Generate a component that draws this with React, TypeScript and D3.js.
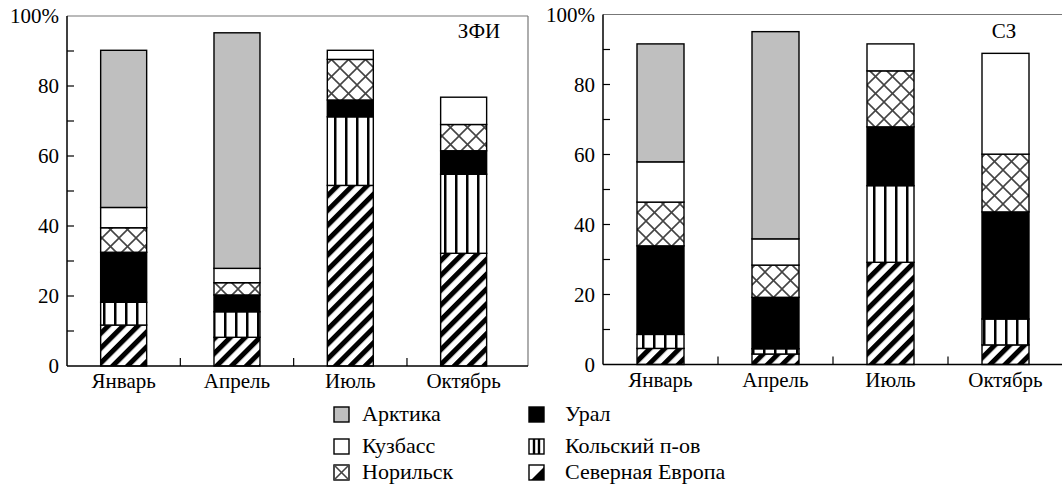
import React from 'react';
import * as d3 from 'd3';

// months on the x axis
const months = ['Январь', 'Апрель', 'Июль', 'Октябрь'];

// stack order, bottom to top
const regionKeys = ['north', 'kola', 'ural', 'norilsk', 'kuzbass', 'arctic'];
const regionNames = ['Северная Европа', 'Кольский п-ов', 'Урал', 'Норильск', 'Кузбасс', 'Арктика'];

// ЗФИ panel, % per month
const zfiNorthEurope = [11.7, 8.2, 51.6, 32.2];
const zfiKola = [6.5, 7.3, 19.6, 22.6];
const zfiUral = [14.3, 4.8, 4.8, 6.7];
const zfiNorilsk = [7.0, 3.5, 11.6, 7.5];
const zfiKuzbass = [5.8, 4.1, 2.6, 7.8];
const zfiArctic = [44.9, 67.3, 0, 0];

// СЗ panel, % per month
const szNorthEurope = [4.6, 3.0, 29.2, 5.6];
const szKola = [4.0, 1.5, 21.9, 7.4];
const szUral = [25.3, 14.7, 16.8, 30.6];
const szNorilsk = [12.5, 9.2, 16.0, 16.5];
const szKuzbass = [11.5, 7.5, 7.7, 28.8];
const szArctic = [33.7, 59.2, 0, 0];

const yTicks = [0, 20, 40, 60, 80, 100];
const yMinorTicks = [10, 30, 50, 70, 90];

const FONT = '"Liberation Serif", "Times New Roman", serif';

// fills per region key
const fills = {
  north: 'url(#pat-diag)',
  kola: 'url(#pat-vert)',
  ural: '#000',
  norilsk: 'url(#pat-cross)',
  kuzbass: '#fff',
  arctic: '#bfbfbf',
};

function buildRows(series) {
  return months.map((m, i) => {
    const row = { month: m };
    regionKeys.forEach((k, j) => { row[k] = series[j][i]; });
    return row;
  });
}

function Panel({ series, label, left, bandRight, frameRight, top, bottom, barWidth, labelX }) {
  const rows = buildRows(series);
  const stacked = d3.stack().keys(regionKeys)(rows);

  const x = d3.scaleBand().domain(months).range([left, bandRight]);
  const y = d3.scaleLinear().domain([0, 100]).range([bottom, top]);

  return (
    <g>
      {/* frame */}
      <line x1={left} x2={frameRight} y1={y(100)} y2={y(100)} stroke="#777" strokeWidth={1.2} />
      <line x1={frameRight} x2={frameRight} y1={y(100)} y2={y(0)} stroke="#777" strokeWidth={1.2} />

      {/* bars */}
      {stacked.map(layer => (
        <g key={layer.key}>
          {layer.map((d, i) => {
            const h = y(d[0]) - y(d[1]);
            if (h <= 0) return null;
            const cx = x(months[i]) + x.bandwidth() / 2;
            return (
              <rect key={i} x={cx - barWidth / 2} y={y(d[1])} width={barWidth} height={h}
                fill={fills[layer.key]} stroke="#000" strokeWidth={1.4} />
            );
          })}
        </g>
      ))}

      {/* y axis */}
      <line x1={left} x2={left} y1={y(100)} y2={y(0)} stroke="#000" strokeWidth={1.5} />
      {yTicks.filter(t => t > 0 && t < 100).concat(yMinorTicks).map(t => (
        <line key={t} x1={left} x2={left + 7} y1={y(t)} y2={y(t)} stroke="#000" strokeWidth={1.2} />
      ))}
      {yTicks.map(t => (
        <text key={t} x={left - 8} y={y(t)} dy="0.35em" textAnchor="end"
          fontFamily={FONT} fontSize={21}>{t === 100 ? '100%' : t}</text>
      ))}

      {/* x axis */}
      <line x1={left} x2={frameRight} y1={y(0)} y2={y(0)} stroke="#000" strokeWidth={1.5} />
      {months.slice(1).map(m => (
        <line key={m} x1={x(m)} x2={x(m)} y1={y(0)} y2={y(0) - 8} stroke="#000" strokeWidth={1.2} />
      ))}
      {months.map(m => (
        <text key={m} x={x(m) + x.bandwidth() / 2} y={y(0) + 22} textAnchor="middle"
          fontFamily={FONT} fontSize={21}>{m}</text>
      ))}

      <text x={labelX} y={38} textAnchor="middle" fontFamily={FONT} fontSize={21}>{label}</text>
    </g>
  );
}

function LegendIcon({ k, x, y, s }) {
  const base = <rect x={x} y={y} width={s} height={s}
    fill={k === 'ural' ? '#000' : k === 'arctic' ? '#bfbfbf' : '#fff'} stroke="#000" strokeWidth={1.4} />;
  let extra = null;
  if (k === 'norilsk') {
    extra = (
      <g stroke="#444" strokeWidth={1.6}>
        <line x1={x} y1={y} x2={x + s} y2={y + s} />
        <line x1={x + s} y1={y} x2={x} y2={y + s} />
      </g>
    );
  } else if (k === 'kola') {
    extra = (
      <g stroke="#000" strokeWidth={2.4}>
        <line x1={x + s / 3} x2={x + s / 3} y1={y} y2={y + s} />
        <line x1={x + 2 * s / 3} x2={x + 2 * s / 3} y1={y} y2={y + s} />
      </g>
    );
  } else if (k === 'north') {
    extra = <path d={`M${x + s},${y + 2}L${x + s},${y + s}L${x + 2},${y + s}Z`} fill="#000" />;
  }
  return <g>{base}{extra}</g>;
}

function Legend() {
  const cols = [
    { iconX: 334, textX: 362, keys: ['arctic', 'kuzbass', 'norilsk'] },
    { iconX: 529, textX: 565, keys: ['ural', 'kola', 'north'] },
  ];
  const baselines = [421, 453, 479];
  return (
    <g>
      {cols.map(c => c.keys.map((k, r) => (
        <g key={k}>
          <LegendIcon k={k} x={c.iconX} y={baselines[r] - 14} s={15} />
          <text x={c.textX} y={baselines[r]} fontFamily={FONT} fontSize={22}>
            {regionNames[regionKeys.indexOf(k)]}
          </text>
        </g>
      )))}
    </g>
  );
}

export default function App() {
  const zfiSeries = [zfiNorthEurope, zfiKola, zfiUral, zfiNorilsk, zfiKuzbass, zfiArctic];
  const szSeries = [szNorthEurope, szKola, szUral, szNorilsk, szKuzbass, szArctic];

  return (
    <div style={{ position: 'absolute', left: 0, top: 0 }}>
      <svg width={1062} height={484} style={{ display: 'block', background: '#fff' }}>
        <defs>
          <pattern id="pat-diag" patternUnits="userSpaceOnUse" width={10.5} height={10.5}
            patternTransform="rotate(45)">
            <rect x={0} y={0} width={10.5} height={10.5} fill="#fff" />
            <rect x={0} y={0} width={5} height={10.5} fill="#000" />
          </pattern>
          <pattern id="pat-vert" patternUnits="userSpaceOnUse" width={11} height={11}>
            <rect x={0} y={0} width={11} height={11} fill="#fff" />
            <rect x={4} y={0} width={2.5} height={11} fill="#000" />
          </pattern>
          <pattern id="pat-cross" patternUnits="userSpaceOnUse" width={17} height={17}>
            <rect x={0} y={0} width={17} height={17} fill="#fff" />
            <g stroke="#444" strokeWidth={1.6}>
              <line x1={-1} y1={-1} x2={18} y2={18} />
              <line x1={18} y1={-1} x2={-1} y2={18} />
            </g>
          </pattern>
        </defs>

        <Panel series={zfiSeries} label="ЗФИ" left={67} bandRight={520.3} frameRight={528}
          top={16} bottom={366} barWidth={46} labelX={479} />
        <Panel series={szSeries} label="СЗ" left={603} bandRight={1063} frameRight={1075}
          top={14.5} bottom={364.5} barWidth={47} labelX={1004} />

        <Legend />
      </svg>
    </div>
  );
}
